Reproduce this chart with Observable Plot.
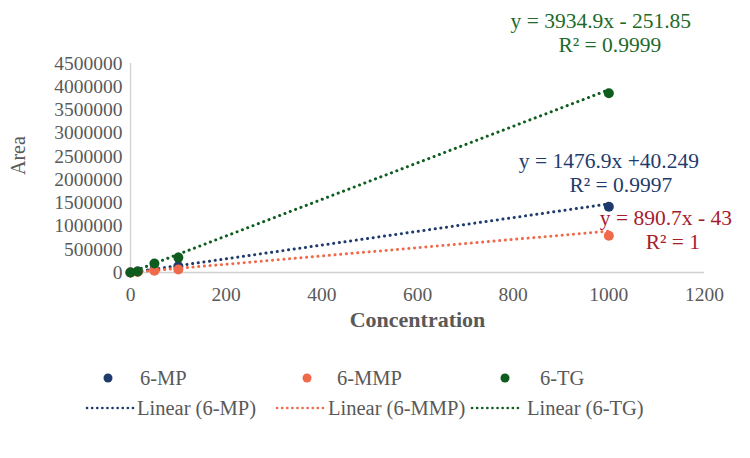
<!DOCTYPE html>
<html>
<head>
<meta charset="utf-8">
<script src="https://cdn.jsdelivr.net/npm/d3@7"></script>
<script src="https://cdn.jsdelivr.net/npm/@observablehq/plot@0.6"></script>
<style>
  body { margin: 0; background: #fff; font-family: "Liberation Serif", "DejaVu Serif", serif; }
  #chart { position: relative; width: 750px; }
  #chart svg text { font-family: "Liberation Serif", "DejaVu Serif", serif; }
  #legend { position: relative; width: 750px; height: 113px; color: #595959; font-size: 20.5px; }
  #legend .item { position: absolute; display: flex; align-items: center; white-space: nowrap; transform: translateY(-50%); }
</style>
</head>
<body>
<div id="chart"></div>
<div id="legend"></div>
<script>
// Calibration series
const series = ["6-MP", "6-MMP", "6-TG"];
const concentration = [0, 15, 50, 100, 1000];
const areaMP = [0, 20000, 60000, 135000, 1414000];
const areaMMP = [0, 12000, 40000, 64000, 793000];
const areaTG = [0, 20000, 193000, 321000, 3860000];

// Linear trendlines (slope, intercept) and their printed labels
const slopes = [1476.9, 890.7, 3934.9];
const intercepts = [40.249, -43, -251.85];
const equationLabels = ["y = 1476.9x +40.249", "y = 890.7x - 43", "y = 3934.9x - 251.85"];
const r2Labels = ["R\u00b2 = 0.9997", "R\u00b2 = 1", "R\u00b2 = 0.9999"];

// Axis ticks
const xTicks = [0, 200, 400, 600, 800, 1000, 1200];
const yTicks = [0, 500000, 1000000, 1500000, 2000000, 2500000, 3000000, 3500000, 4000000, 4500000];

const dotColors = ["#1f3b6c", "#f0694a", "#0e5c1e"];
const labelColors = ["#1f3b6c", "#a51c2e", "#1d6a2a"];

const areas = [areaMP, areaMMP, areaTG];
const points = series.flatMap((s, i) =>
  concentration.map((c, j) => ({series: s, concentration: c, area: areas[i][j]})));

const xExtent = d3.extent(concentration);
const trend = series.flatMap((s, i) =>
  xExtent.map(x => ({series: s, x, y: slopes[i] * x + intercepts[i]})));

const ends = series.map((s, i) => ({
  series: s,
  x: xExtent[1],
  y: slopes[i] * xExtent[1] + intercepts[i],
  eq: equationLabels[i],
  r2: r2Labels[i]
}));

// label offsets (px) from each trendline's right end: [eq dx, eq dy, r2 dx, r2 dy]
const labelOffsets = [[0, -43, 12, -19], [57, -13, 64, 11], [-8, -69, 1, -45]];

const labelMarks = ends.flatMap((d, i) => {
  const [edx, edy, rdx, rdy] = labelOffsets[i];
  return [
    Plot.text([d], {x: "x", y: "y", text: "eq", fill: labelColors[i], dx: edx, dy: edy, fontSize: 21.5}),
    Plot.text([d], {x: "x", y: "y", text: "r2", fill: labelColors[i], dx: rdx, dy: rdy, fontSize: 21.5})
  ];
});

const chart = Plot.plot({
  width: 750,
  height: 345,
  marginLeft: 130,
  marginRight: 46,
  marginTop: 63,
  marginBottom: 73,
  x: {domain: [0, 1200]},
  y: {domain: [0, 4500000]},
  color: {domain: series, range: dotColors},
  style: {fontFamily: "'Liberation Serif', serif", fontSize: "19px", color: "#595959", background: "#fff", overflow: "visible"},
  marks: [
    Plot.ruleY([0], {stroke: "#d0d0d0", strokeWidth: 1.3}),
    Plot.ruleX([0], {stroke: "#d0d0d0", strokeWidth: 1.3}),
    Plot.axisX({ticks: xTicks, tickSize: 0, tickPadding: 15, tickFormat: d => String(d), label: null, fontSize: 19.5}),
    Plot.axisY({ticks: yTicks, tickSize: 0, tickPadding: 8, tickFormat: d => String(d), label: null, fontSize: 19.5}),
    Plot.line(trend, {x: "x", y: "y", z: "series", stroke: "series", strokeWidth: 3, strokeDasharray: "0.1 5.6", strokeLinecap: "round"}),
    Plot.dot(points, {x: "concentration", y: "area", fill: "series", r: 5}),
    ...labelMarks,
    Plot.text(["Concentration"], {text: d => d, frameAnchor: "bottom", dy: 54, fontWeight: "bold", fontSize: 22, fill: "#595959"}),
    Plot.text(["Area"], {text: d => d, frameAnchor: "left", dx: -112, dy: 7, rotate: -90, fontSize: 20, fill: "#595959"})
  ]
});
document.getElementById("chart").append(chart);

// Legend: markers on the first row, trendline samples on the second
const legend = d3.select("#legend");
const dotX = [108, 307, 505], dotLabelX = [140, 337, 540];
const lineX = [85, 275, 470], lineLabelX = [137, 328, 527];
series.forEach((s, i) => {
  const a = legend.append("div").attr("class", "item").style("left", (dotX[i] - 5) + "px").style("top", "33px");
  a.append("svg").attr("width", 10).attr("height", 10)
    .append("circle").attr("cx", 5).attr("cy", 5).attr("r", 4.5).attr("fill", dotColors[i]);
  legend.append("div").attr("class", "item").style("left", dotLabelX[i] + "px").style("top", "33px").text(s);

  const b = legend.append("div").attr("class", "item").style("left", lineX[i] + "px").style("top", "63px");
  b.append("svg").attr("width", 50).attr("height", 6)
    .append("line").attr("x1", 2).attr("x2", 48).attr("y1", 3).attr("y2", 3)
    .attr("stroke", dotColors[i]).attr("stroke-width", 2.6)
    .attr("stroke-dasharray", "0.1 5").attr("stroke-linecap", "round");
  legend.append("div").attr("class", "item").style("left", lineLabelX[i] + "px").style("top", "63px").text(`Linear (${s})`);
});
</script>
</body>
</html>
